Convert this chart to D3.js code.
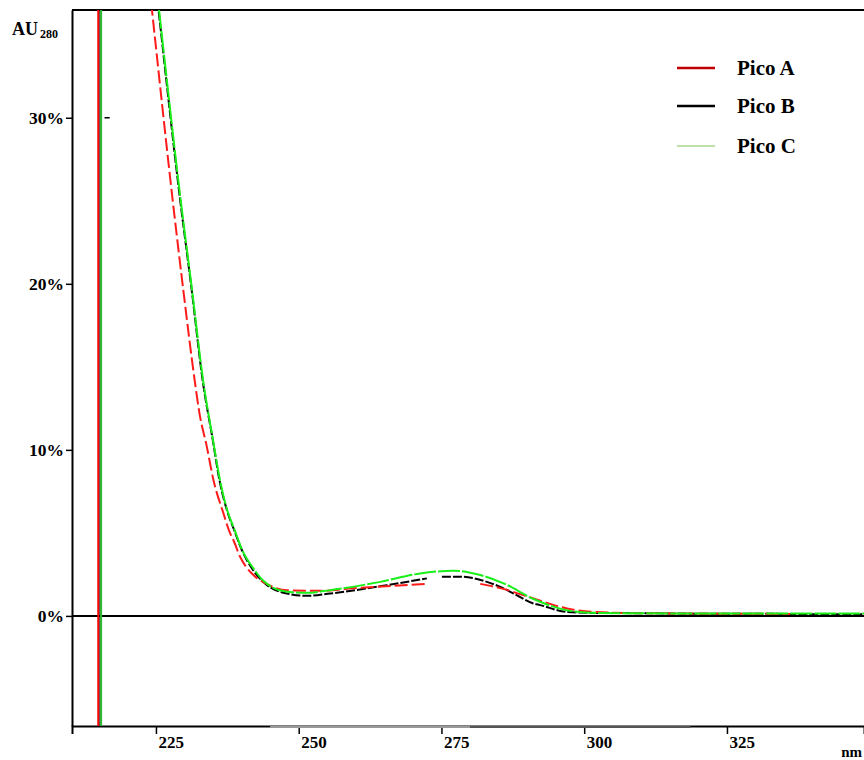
<!DOCTYPE html>
<html>
<head>
<meta charset="utf-8">
<script src="https://cdnjs.cloudflare.com/ajax/libs/d3/7.8.5/d3.min.js"></script>
<style>
  body { margin: 0; background: #fff; }
  svg { display: block; font-family: "Liberation Serif", "Times New Roman", serif; font-weight: bold; }
</style>
</head>
<body>
<svg width="864" height="760"></svg>
<script>

// axis ticks
var xTicks = [225, 250, 275, 300, 325];
var yTicks = [0, 10, 20, 30];

var seriesNames = ["Pico A", "Pico B", "Pico C"];

// Pico A (null = gap in the trace)
var nmA  = [222.9, 224.27, 227.91, 229.8, 231.78, 232.61, 233.9, 235.06, 236.81, 237.98, 238.56, 239.74, 242.07, 243.77, 247.92, 253.76, 259.54, 265.44, 272.45, 277.0, 281.79, 285.47, 291.13, 296.98, 301.59, 311.6, 336.1];
var pctA = [41, 36.6, 25.1, 19.6, 14.2, 12.23, 10.21, 8.2, 6.19, 4.98, 4.57, 3.56, 2.46, 2.05, 1.55, 1.51, 1.66, 1.79, 1.93, null, 1.93, 1.66, 1.05, 0.45, 0.24, 0.16, 0.12];

// Pico B
var nmB  = [224.0, 225.42, 229.22, 231.27, 233.17, 234.95, 236.11, 237.41, 238.69, 240.04, 240.91, 242.02, 243.77, 247.92, 251.43, 255.51, 265.44, 272.45, 273.8, 275.08, 278.29, 282.97, 285.3, 287.63, 291.08, 292.3, 296.98, 302.24, 311.6, 320.3, 330.9, 341.4, 349];
var pctB = [41, 36.6, 25.1, 19.6, 14.2, 10.6, 8.2, 6.39, 5.18, 3.97, 3.37, 2.76, 2.05, 1.35, 1.21, 1.35, 1.85, 2.26, null, 2.36, 2.36, 2.05, 1.75, 1.35, 0.75, 0.65, 0.24, 0.18, 0.16, 0.13, 0.13, 0.1, 0.1];

// Pico C
var nmC  = [224.1, 225.51, 229.31, 231.33, 233.25, 234.99, 236.2, 237.46, 238.77, 240.09, 242.07, 243.77, 247.92, 251.43, 255.51, 264.27, 271.28, 277.11, 281.79, 285.87, 291.13, 292.3, 296.98, 302.24, 318.6, 349];
var pctC = [41, 36.6, 25.1, 19.6, 14.2, 10.6, 8.2, 6.39, 5.18, 3.97, 2.86, 2.13, 1.45, 1.39, 1.55, 2.05, 2.56, 2.72, 2.46, 1.96, 1.02, 0.85, 0.34, 0.18, 0.15, 0.15];

// the vertical spike near 215 nm, one per peak
var spikeNm = [214.9, 215.2, 215.4];

var curveColors  = ["#ff1a1a", "#000000", "#19f019"];
var spikeColors  = ["#ff0000", "#111111", "#33b833"];
var legendColors = ["#c00000", "#000000", "#a8d890"];

var svg = d3.select("svg"),
    margin = {top: 10, right: 0, bottom: 34, left: 72},
    width = 864 - margin.left - margin.right,
    height = 760 - margin.top - margin.bottom;   // 716

var x = d3.scaleLinear().domain([210.3, 349]).range([margin.left, margin.left + width]);
var y = d3.scaleLinear().domain([-6.63, 36.49]).range([margin.top + height, margin.top]);

svg.append("clipPath").attr("id", "plotclip")
  .append("rect")
  .attr("x", margin.left).attr("y", margin.top)
  .attr("width", width).attr("height", height);

// frame: top and left
svg.append("line")
  .attr("x1", margin.left).attr("x2", margin.left + width)
  .attr("y1", margin.top).attr("y2", margin.top)
  .attr("stroke", "#000").attr("stroke-width", 2);

//zero line
svg.append("line")
  .attr("x1", margin.left).attr("x2", margin.left + width)
  .attr("y1", y(0)).attr("y2", y(0))
  .attr("stroke", "#000").attr("stroke-width", 2);

// x axis
var xAxis = svg.append("g")
  .attr("class", "axis axis--x")
  .attr("transform", "translate(0," + (margin.top + height) + ")")
  .call(d3.axisBottom(x).tickValues(xTicks).tickSize(8).tickSizeOuter(8).tickFormat(d3.format("d")));

xAxis.select(".domain").attr("stroke-width", 2);
xAxis.selectAll(".tick line").attr("stroke-width", 1.5);
xAxis.selectAll(".tick text")
  .attr("text-anchor", "start")
  .attr("x", 2).attr("y", 10).attr("dy", "0.71em")
  .style("font-size", "17px").style("font-family", "Liberation Serif").style("font-weight", "bold")
  .attr("fill", "#000");

// y axis
var yAxis = svg.append("g")
  .attr("class", "axis axis--y")
  .attr("transform", "translate(" + margin.left + ",0)")
  .call(d3.axisLeft(y).tickValues(yTicks).tickSize(6).tickSizeOuter(0).tickFormat(function(d) { return d + "%"; }));

yAxis.select(".domain").attr("stroke-width", 2);
yAxis.selectAll(".tick line").attr("stroke-width", 1.5);
yAxis.selectAll(".tick text")
  .attr("x", -8)
  .style("font-size", "17.5px").style("font-family", "Liberation Serif").style("font-weight", "bold")
  .attr("fill", "#000");

// gray trace lying on the bottom axis
var baseNm = [[245.0, 280.0], [280.0, 318.6]];
var baseColors = ["#9a9a9a", "#555555"];
baseNm.forEach(function(seg, i) {
  svg.append("line")
    .attr("x1", x(seg[0])).attr("x2", x(seg[1]))
    .attr("y1", margin.top + height + 1).attr("y2", margin.top + height + 1)
    .attr("stroke", baseColors[i]).attr("stroke-width", 2);
});

var plot = svg.append("g").attr("clip-path", "url(#plotclip)");

// spikes
spikeNm.forEach(function(v, i) {
  plot.append("line")
    .attr("x1", x(v)).attr("x2", x(v))
    .attr("y1", margin.top).attr("y2", margin.top + height)
    .attr("stroke", spikeColors[i])
    .attr("stroke-width", i == 1 ? 1.2 : 2);
});

// small mark next to the spike
plot.append("line")
  .attr("x1", x(216.0)).attr("x2", x(216.9))
  .attr("y1", y(30)).attr("y2", y(30))
  .attr("stroke", "#000").attr("stroke-width", 1.5);

var line = d3.line()
  .defined(function(d) { return d.v != null; })
  .x(function(d) { return x(d.nm); })
  .y(function(d) { return y(d.v); })
  .curve(d3.curveMonotoneX);

function zipData(nm, pct) {
  return nm.map(function(n, i) { return {nm: n, v: pct[i]}; });
}

var traces = [
  {data: zipData(nmB, pctB), color: curveColors[1], dash: "9,2", w: 2},
  {data: zipData(nmA, pctA), color: curveColors[0], dash: "13,4", w: 2},
  {data: zipData(nmC, pctC), color: curveColors[2], dash: "22,2", w: 2}
];

traces.forEach(function(t) {
  plot.append("path")
    .datum(t.data)
    .attr("d", line)
    .attr("fill", "none")
    .attr("stroke", t.color)
    .attr("stroke-width", t.w)
    .attr("stroke-dasharray", t.dash);
});

// legend
var legend = svg.append("g").attr("class", "legend");
var legendY = [68, 106, 146];
seriesNames.forEach(function(name, i) {
  legend.append("line")
    .attr("x1", 677).attr("x2", 715)
    .attr("y1", legendY[i]).attr("y2", legendY[i])
    .attr("stroke", legendColors[i])
    .attr("stroke-width", i == 2 ? 1.5 : 2.5);
  legend.append("text")
    .attr("x", 737).attr("y", legendY[i] + 7)
    .style("font-size", "21px")
    .attr("fill", "#000")
    .text(name);
});

// axis titles
var au = svg.append("text").attr("x", 12).attr("y", 35).style("font-size", "18px");
au.append("tspan").text("AU");
au.append("tspan").attr("dx", 2).attr("dy", 3).style("font-size", "12px").text("280");

svg.append("text")
  .attr("x", 862).attr("y", 757)
  .attr("text-anchor", "end")
  .style("font-size", "15px")
  .text("nm");

</script>
</body>
</html>
